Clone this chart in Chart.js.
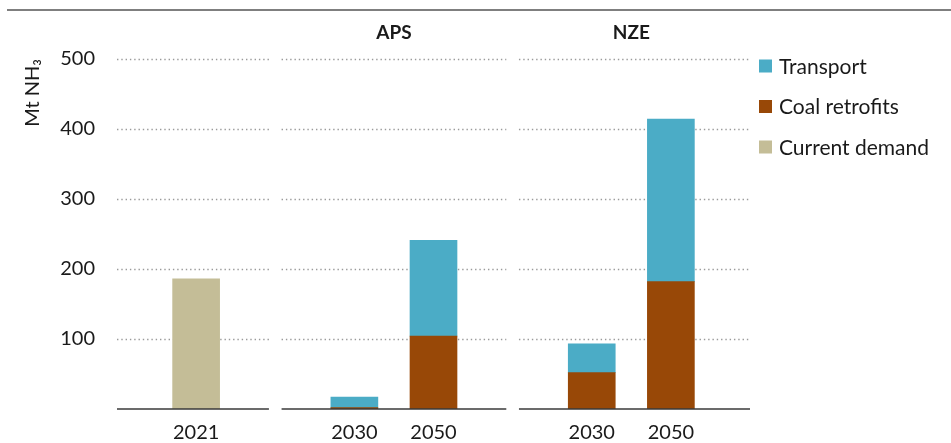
<!DOCTYPE html>
<html>
<head>
<meta charset="utf-8">
<script src="https://cdn.jsdelivr.net/npm/chart.js@4.4.1/dist/chart.umd.min.js"></script>
<style>
  html, body { margin: 0; padding: 0; background: #ffffff; }
  #wrap { width: 951px; height: 443px; position: relative; }
</style>
</head>
<body>
<div id="wrap"><canvas id="chart" width="951" height="443"></canvas></div>
<script>
// Ammonia demand by use (Mt NH3)
const categories = ['2021', '2030', '2050', '2030', '2050'];
const panelOf = [0, 1, 1, 2, 2];
const panelTitles = ['', 'APS', 'NZE'];
const currentDemand = [186, null, null, null, null];
const coalRetrofits = [null, 2, 104, 52, 182];
const transport = [null, 15, 137, 41, 232];
const yTicks = [100, 200, 300, 400, 500];

const COLORS = {
  transport: '#4BACC6',
  coal: '#984807',
  current: '#C4BD97',
  grid: '#9a9a9a',
  base: '#3a3a3a',
  rule: '#7f7f7f',
  text: '#1a1a1a'
};
const FONT = "Lato, 'Open Sans', 'Noto Sans', sans-serif";

// Category axis with an empty slot before, between and after the panels
const labels = [''];
const slotOf = [];
categories.forEach((c, i) => {
  if (i > 0 && panelOf[i] !== panelOf[i - 1]) labels.push('');
  slotOf.push(labels.length);
  labels.push(c);
});
labels.push('');
const spread = arr => {
  const out = labels.map(() => null);
  arr.forEach((v, i) => { out[slotOf[i]] = v; });
  return out;
};

// Slot range covered by each panel (fractional category units)
const panelCount = panelTitles.length;
const lastSlot = labels.length - 1;
const panels = [];
for (let p = 0; p < panelCount; p++) {
  const idx = slotOf.filter((s, i) => panelOf[i] === p);
  const first = Math.min(...idx), last = Math.max(...idx);
  panels.push({
    start: p === 0 ? 0 : first - 0.92,
    end: p === panelCount - 1 ? lastSlot : last + 0.92,
    mid: (first + last) / 2,
    title: panelTitles[p]
  });
}

const datasets = [
  { label: 'Current demand', data: spread(currentDemand), backgroundColor: COLORS.current },
  { label: 'Coal retrofits', data: spread(coalRetrofits), backgroundColor: COLORS.coal },
  { label: 'Transport', data: spread(transport), backgroundColor: COLORS.transport }
];

const panelPlugin = {
  id: 'panelDecor',
  beforeDatasetsDraw(chart) {
    const { ctx, scales: { x, y } } = chart;
    ctx.save();
    // top rule
    ctx.fillStyle = COLORS.rule;
    ctx.fillRect(7, 9, 944, 2);
    // dotted gridlines per panel
    ctx.strokeStyle = COLORS.grid;
    ctx.lineWidth = 1.6;
    ctx.setLineDash([1.4, 2.9]);
    yTicks.forEach(v => {
      const py = Math.round(y.getPixelForValue(v)) + 0.5;
      panels.forEach(p => {
        ctx.beginPath();
        ctx.moveTo(x.getPixelForValue(p.start), py);
        ctx.lineTo(x.getPixelForValue(p.end), py);
        ctx.stroke();
      });
    });
    ctx.restore();
  },
  afterDatasetsDraw(chart) {
    const { ctx, scales: { x, y } } = chart;
    ctx.save();
    // baseline per panel
    ctx.strokeStyle = COLORS.base;
    ctx.lineWidth = 1.5;
    const by = y.getPixelForValue(0);
    panels.forEach(p => {
      ctx.beginPath();
      ctx.moveTo(x.getPixelForValue(p.start), by);
      ctx.lineTo(x.getPixelForValue(p.end), by);
      ctx.stroke();
    });
    // panel titles
    ctx.fillStyle = COLORS.text;
    ctx.font = "bold 19px " + FONT;
    ctx.textAlign = 'center';
    ctx.textBaseline = 'middle';
    panels.forEach(p => {
      if (p.title) ctx.fillText(p.title, x.getPixelForValue(p.mid), 33);
    });
    // legend (top of stack first)
    ctx.font = "21px " + FONT;
    ctx.textAlign = 'left';
    const items = chart.data.datasets.slice().reverse();
    items.forEach((ds, i) => {
      const cy = 66 + i * 40.5;
      ctx.fillStyle = ds.backgroundColor;
      ctx.fillRect(759, cy - 6.5, 13, 13);
      ctx.fillStyle = COLORS.text;
      ctx.fillText(ds.label, 779, cy + 1);
    });
    ctx.restore();
  }
};

new Chart(document.getElementById('chart'), {
  type: 'bar',
  data: { labels, datasets },
  options: {
    responsive: false,
    animation: false,
    layout: { padding: { top: 59, right: 201, left: 0, bottom: 0 } },
    datasets: { bar: { barThickness: 47, borderWidth: 0 } },
    plugins: { legend: { display: false }, tooltip: { enabled: false } },
    scales: {
      x: {
        stacked: true,
        offset: false,
        grid: { display: false, drawTicks: false },
        border: { display: false },
        ticks: {
          autoSkip: false, maxRotation: 0, padding: 12,
          color: COLORS.text, font: { family: FONT, size: 20 }
        },
        afterFit(s) { s.height = 31; }
      },
      y: {
        stacked: true,
        min: 0,
        max: 500,
        grid: { display: false, drawTicks: false },
        border: { display: false },
        afterBuildTicks(s) { s.ticks = yTicks.map(v => ({ value: v })); },
        ticks: { padding: 22, color: COLORS.text, font: { family: FONT, size: 20 } },
        title: {
          display: true, text: 'Mt NH₃', align: 'end',
          color: COLORS.text, font: { family: FONT, size: 20 },
          padding: { top: 21, bottom: 0 }
        },
        afterFit(s) { s.width = 117; }
      }
    }
  },
  plugins: [panelPlugin]
});
</script>
</body>
</html>
